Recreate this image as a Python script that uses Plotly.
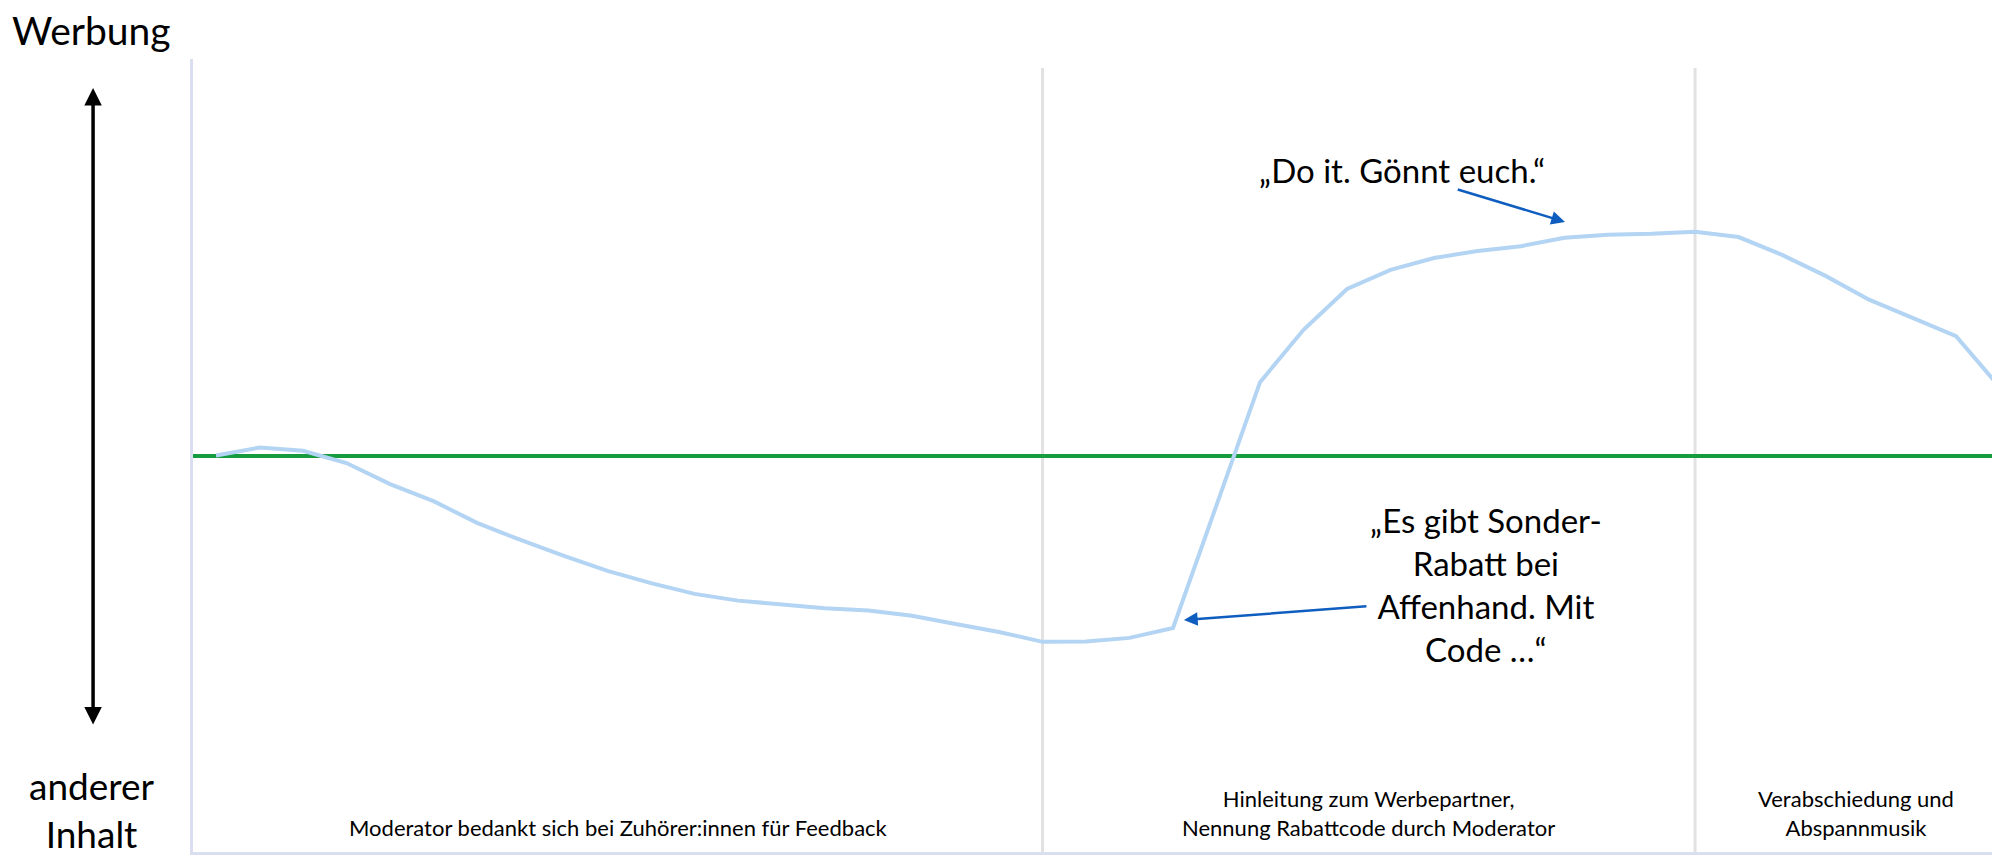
import plotly.graph_objects as go

# ---- data ----
time_index = list(range(42))
werbung_level = [0.0, 0.2, 0.12, -0.19, -0.72, -1.15, -1.70, -2.13, -2.53, -2.91,
                 -3.22, -3.49, -3.66, -3.76, -3.85, -3.91, -4.04, -4.25, -4.45, -4.70,
                 -4.69, -4.60, -4.35, -1.25, 1.85, 3.17, 4.20, 4.68, 4.98, 5.16,
                 5.28, 5.49, 5.57, 5.59, 5.64, 5.51, 5.06, 4.53, 3.93, 3.47,
                 3.01, 1.73]
section_boundaries = [19, 34]
section_labels = ["Moderator bedankt sich bei Zuhörer:innen für Feedback",
                  "Hinleitung zum Werbepartner,<br>Nennung Rabattcode durch Moderator",
                  "Verabschiedung und<br>Abspannmusik"]
section_label_x = [0.2352, 0.6503, 0.9203]
section_label_y = [0.0315, 0.0486, 0.0486]
quote_texts = ["„Do it. Gönnt euch.“",
               "„Es gibt Sonder-<br>Rabatt bei<br>Affenhand. Mit<br>Code …“"]
quote_pos = [(27.26, 7.2), (29.2, -3.25)]
# arrows: (head_x, head_y, tail_x, tail_y) in data units
quote_arrows = [(31.01, 5.89, 28.51, 6.72), (22.25, -4.15, 26.48, -3.80)]

FONT = "Lato"

fig = go.Figure()
fig.add_trace(go.Scatter(
    x=time_index, y=werbung_level, mode="lines",
    line=dict(color="#B3D4F3", width=4),
    showlegend=False, hoverinfo="skip"))

for b in section_boundaries:
    fig.add_shape(type="line", xref="x", yref="paper", x0=b, x1=b, y0=0, y1=0.9886,
                  line=dict(color="#E2E2E2", width=3), layer="below")

ann = []
ann.append(dict(text="Werbung", xref="paper", yref="paper", x=-0.0559, y=1.036,
                showarrow=False, xanchor="center", yanchor="middle",
                font=dict(family=FONT, size=39, color="#000000")))
ann.append(dict(text="anderer<br>Inhalt", xref="paper", yref="paper", x=-0.0559, y=0.054,
                showarrow=False, xanchor="center", yanchor="middle",
                font=dict(family=FONT, size=37, color="#000000")))
# double-headed vertical arrow
ann.append(dict(text="", xref="paper", yref="paper", axref="pixel", ayref="pixel",
                x=-0.0553, y=0.9634, ax=0, ay=638,
                showarrow=True, arrowhead=2, startarrowhead=2, arrowside="end+start",
                arrowsize=1, startarrowsize=1, arrowwidth=3.5, arrowcolor="#000000",
                standoff=0, startstandoff=0))
for lbl, lx, ly in zip(section_labels, section_label_x, section_label_y):
    ann.append(dict(text=lbl, xref="paper", yref="paper", x=lx, y=ly,
                    showarrow=False, xanchor="center", yanchor="middle",
                    font=dict(family=FONT, size=22, color="#000000")))
for t, (qx, qy) in zip(quote_texts, quote_pos):
    ann.append(dict(text=t, xref="x", yref="y", x=qx, y=qy, showarrow=False,
                    xanchor="center", yanchor="middle",
                    font=dict(family=FONT, size=33, color="#000000")))
for hx, hy, tx, ty in quote_arrows:
    ann.append(dict(text="", xref="x", yref="y", axref="x", ayref="y",
                    x=hx, y=hy, ax=tx, ay=ty, showarrow=True,
                    arrowhead=2, arrowsize=1.1, arrowwidth=2.5, arrowcolor="#0E5DBF",
                    standoff=0))

fig.update_layout(
    width=1992, height=849,
    margin=dict(l=185, r=0, t=51, b=5),
    paper_bgcolor="white", plot_bgcolor="white",
    annotations=ann,
    xaxis=dict(range=[-0.529, 41.01], showgrid=False, zeroline=False,
               showticklabels=False, ticks="", showline=True,
               linecolor="#D9DFF0", linewidth=3),
    yaxis=dict(range=[-10, 10], showgrid=False, zeroline=True,
               zerolinecolor="#169B3E", zerolinewidth=4,
               showticklabels=False, ticks="", showline=True,
               linecolor="#D9DFF0", linewidth=3),
    font=dict(family=FONT),
)

fig.write_html("out.html")
